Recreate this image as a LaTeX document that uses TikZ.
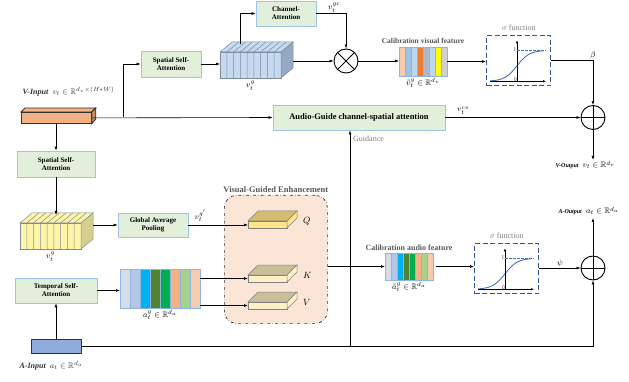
\documentclass[tikz,border=0pt]{standalone}
\usepackage{amsmath,amssymb}
\usepackage{fontspec}
\setmainfont{Liberation Serif}
\usepackage{tikz}
\usetikzlibrary{arrows.meta,positioning,calc}

\definecolor{boxfill}{HTML}{E2EFDA}
\definecolor{boxline}{HTML}{9DC3E6}
\definecolor{vgefill}{HTML}{FBE5D6}
\definecolor{sigline}{HTML}{2F5597}
\definecolor{sigcurv}{HTML}{4472C4}
\definecolor{barline}{HTML}{8DB4E2}
\definecolor{cubeedge}{HTML}{7F8C99}
\definecolor{bluefront}{HTML}{C5D9F1}
\definecolor{blueside}{HTML}{95A9C4}
\definecolor{ylwfront}{HTML}{FFF5A8}
\definecolor{ylwside}{HTML}{D6D08E}
\definecolor{qtop}{HTML}{D4BD6E}
\definecolor{qfront}{HTML}{FFE38A}
\definecolor{kvtop}{HTML}{CBBF9A}
\definecolor{kvfront}{HTML}{FDF0C8}
\definecolor{vinfill}{HTML}{F4B183}
\definecolor{ainfill}{HTML}{8FAADC}
\definecolor{txtgray}{HTML}{595959}
\definecolor{lightgray}{HTML}{7F7F7F}
% feature cells
\definecolor{cellgray}{HTML}{D6DCE4}
\definecolor{cellblue}{HTML}{B4C7E7}
\definecolor{cellcyan}{HTML}{00B0F0}
\definecolor{celldkgreen}{HTML}{548235}
\definecolor{cellgreen}{HTML}{00B050}
\definecolor{cellsalmon}{HTML}{F4B183}
\definecolor{cellltgreen}{HTML}{A9D18E}
\definecolor{cellpeach}{HTML}{F8CBAD}
\definecolor{cellsky}{HTML}{9DC3E6}
\definecolor{cellorange}{HTML}{ED7D31}
\definecolor{cellsteel}{HTML}{ADB9CA}
\definecolor{cellpale}{HTML}{BDD7EE}
\definecolor{cellyellow}{HTML}{FFFF00}
\definecolor{celllgray}{HTML}{D0CECE}

% sliced feature cube: name, x, y, front colour, side colour
\newcommand{\featcube}[5]{%
  \node[cubeface,fill=#4,minimum width=61pt,minimum height=26pt,anchor=north west] (#1) at (#2,#3) {};
  \filldraw[cubeface,fill=#4] (#1.north west) -- ++(12,-10) -- ($(#1.north east)+(12,-10)$) -- (#1.north east) -- cycle;
  \filldraw[cubeface,fill=#5] (#1.north east) -- ++(12,-10) -- ($(#1.south east)+(12,-10)$) -- (#1.south east) -- cycle;
  \foreach \k in {1,...,8}
    \draw[cubeface] ($(#1.south west)!\k/9!(#1.south east)$) -- ($(#1.north west)!\k/9!(#1.north east)$) -- ++(12,-10);}

% flat Q/K/V slab: name, x, y, top colour, front colour
\newcommand{\qkvslab}[5]{%
  \node[slabface,fill=#5,minimum width=39pt,minimum height=7pt,anchor=north west] (#1) at (#2,#3) {};
  \filldraw[slabface,fill=#4] (#1.north west) -- ++(10,-10) -- ($(#1.north east)+(10,-10)$) -- (#1.north east) -- cycle;
  \filldraw[slabface,fill=#5] (#1.north east) -- ++(10,-10) -- ($(#1.south east)+(10,-10)$) -- (#1.south east) -- cycle;}

% feature bar of 8 cells: name, x, y, width, height, colours
\newcommand{\featbar}[6]{%
  \node[inner sep=0pt,outer sep=0pt,minimum width=#4pt,minimum height=#5pt,anchor=north west] (#1) at (#2,#3) {};
  \foreach \c [count=\k from 0] in {#6}
    \filldraw[fill=\c,draw=barline,line width=0.7pt] ($(#1.north west)+({\k*#4/8},0)$) rectangle ++({#4/8},#5);}

% sigma function box: name, x, y
\newcommand{\sigbox}[3]{%
  \node[sigframe,minimum width=64pt,minimum height=50pt,anchor=north west] (#1) at (#2,#3) {};
  \begin{scope}[shift={(#1.south west)}]
    \draw[sigcurve] plot[domain=-27:27,samples=40] ({31+\x},{-5-31/(1+exp(-0.16*\x))});
    \draw[sigaxis] (4,-5) -- (60,-5);
    \draw[sigaxis] (31,-5) -- (31,-46);
    \draw[sigdash] (31,-36) -- (60,-36);
    \node[ticklab,anchor=east] at (31,-37) {1};
    \node[ticklab,anchor=south east] at (31.5,-4) {0};
  \end{scope}}

\begin{document}
\begin{tikzpicture}[
  x=1pt,y=-1pt,
  font=\fontsize{8}{9}\selectfont,
  box/.style={draw=boxline,fill=boxfill,line width=0.9pt,align=center,inner sep=1pt,
              font=\fontsize{7}{8}\selectfont\bfseries},
  arr/.style={-{Latex[length=4pt,width=3pt]},line width=0.6pt},
  ln/.style={line width=0.6pt},
  lab/.style={inner sep=1pt,font=\fontsize{8}{9}\selectfont},
  ttl/.style={inner sep=1pt,text=txtgray,font=\fontsize{7.5}{9}\selectfont\bfseries},
  gtxt/.style={inner sep=1pt,text=lightgray,font=\fontsize{8}{9}\selectfont},
  sigframe/.style={draw=sigline,line width=1.3pt,dash pattern=on 5pt off 2.5pt},
  sigaxis/.style={-{Latex[length=3pt,width=2.5pt]},line width=1pt},
  sigdash/.style={sigcurv,line width=0.7pt,dash pattern=on 2.5pt off 1.5pt},
  sigcurve/.style={sigcurv,line width=0.9pt},
  ticklab/.style={inner sep=0.5pt,text=txtgray,font=\fontsize{6}{7}\selectfont},
  cubeface/.style={draw=cubeedge,line width=0.5pt,inner sep=0pt,outer sep=0pt},
  slabface/.style={draw=gray,line width=0.5pt,inner sep=0pt,outer sep=0pt},
  vgebox/.style={draw=black!80,fill=vgefill,dash dot,line width=0.7pt,rounded corners=12pt,
                 inner sep=0pt},
  opcircle/.style={circle,draw,line width=0.9pt,minimum size=24pt,inner sep=0pt},
]
\useasboundingbox (0,0) rectangle (629,382);

% ----- visual branch (top)
\node[draw=black!80,fill=vinfill,line width=0.8pt,minimum width=70pt,minimum height=11pt,
      inner sep=0pt,anchor=north west] (vin) at (21,112) {};
\filldraw[draw=black!80,fill=vinfill,line width=0.8pt] (vin.north west) -- ++(4,-4) -- ($(vin.north east)+(4,-4)$) -- (vin.north east) -- cycle;
\filldraw[draw=black!80,fill=vinfill!80!black,line width=0.8pt] (vin.north east) -- ++(4,-4) -- ++(0,11) -- (vin.south east) -- cycle;
\node[anchor=west,text=black!80] (vinlab) at (19,92)
  {\textbf{\textit{V-Input}}\ \ $v_t\in\mathbb{R}^{d_v\times(H*W)}$};

\node[box,minimum width=60pt,minimum height=26pt] (ssa1) at (171,64) {Spatial Self-\\Attention};
\featcube{vg}{220}{52}{bluefront}{blueside}
\node[lab,below=2pt of vg] {$v_t^g$};
\node[box,minimum width=60pt,minimum height=25pt] (ca) at (286,13.5) {Channel-\\Attention};
\node[opcircle] (mul) at (346,61) {};
\draw[line width=0.9pt] (mul.north west) -- (mul.south east) (mul.north east) -- (mul.south west);

\featbar{cvf}{399}{47}{48}{29}{cellpeach,cellsky,cellpale,cellorange,cellsteel,cellpale,cellyellow,celllgray}
\node[ttl,above=2pt of cvf] {Calibration visual feature};
\node[lab,below=1pt of cvf] {$\tilde{v}_t^g\in\mathbb{R}^{d_v}$};
\sigbox{sg1}{486}{35}
\node[gtxt,above=3pt of sg1] {$\sigma$ function};

\node[box,minimum width=172pt,minimum height=25pt,font=\fontsize{8.5}{10}\selectfont\bfseries]
  (agca) at (359,117.5) {Audio-Guide channel-spatial attention};
\node[opcircle] (opv) at (593,117.5) {};
\draw[line width=0.9pt] (opv.north) -- (opv.south) (opv.west) -- (opv.east);

\coordinate (br1) at (123,117.5);
\coordinate (vgtop) at (240,44);
\coordinate (vgside) at (293,61);
\coordinate (vout) at (593,160);
\draw[arr] (vin.east) -- (agca.west);
\draw[arr] (br1) |- (ssa1.west);
\draw[arr] (ssa1) -- (ssa1 -| vg.west);
\draw[arr] (vgtop) |- (ca.west);
\draw[arr] (vgside) -- (mul.west);
\draw[arr] (ca.east) -| node[lab,pos=0.3,above]{$v_t^{gc}$} (mul.north);
\draw[arr] (mul) -- (mul -| cvf.west);
\draw[arr] (cvf) -- (cvf -| sg1.west);
\draw[arr] (sg1.east) -| node[lab,pos=0.5,above]{$\beta$} (opv.north);
\draw[arr] (agca.east) -- node[lab,pos=0.13,above=2pt]{$v_t^{cs}$} (opv.west);
\draw[arr] (opv.south) -- (vout);
\node[anchor=west] at (552,165)
  {\textbf{\textit{\fontsize{6}{7}\selectfont V-Output}}\ \ $v_t\in\mathbb{R}^{d_v}$};

% ----- visual branch (bottom)
\node[box,minimum width=78pt,minimum height=26pt] (ssa2) at (56,164) {Spatial Self-\\Attention};
\featcube{yg}{20}{223}{ylwfront}{ylwside}
\node[lab,below=2pt of yg] {$v_t^g$};
\node[box,minimum width=70pt,minimum height=24pt] (gap) at (153,225) {Global Average\\Pooling};
\coordinate (ygtop) at (56,215);
\coordinate (ygside) at (93,225);
\draw[arr] (vin.south -| ssa2) -- (ssa2.north);
\draw[arr] (ssa2.south) -- (ygtop);
\draw[arr] (ygside) -- (gap.west);

% ----- visual-guided enhancement
\node[vgebox,minimum width=103pt,minimum height=128pt,anchor=north west] (vge) at (224,195) {};
\node[ttl,font=\fontsize{8.5}{10}\selectfont\bfseries,above=1pt of vge] {Visual-Guided Enhancement};
\qkvslab{qs}{248}{221}{qtop}{qfront}
\qkvslab{ks}{248}{275}{kvtop}{kvfront}
\qkvslab{vs}{248}{302}{kvtop}{kvfront}
\node[lab,font=\fontsize{9}{10}\selectfont,right=15pt of qs,yshift=3pt] {$Q$};
\node[lab,font=\fontsize{9}{10}\selectfont,right=15pt of ks,yshift=3pt] {$K$};
\node[lab,font=\fontsize{9}{10}\selectfont,right=15pt of vs,yshift=3pt] {$V$};
\draw[arr] (gap) -- node[lab,pos=0.2,above=2pt]{$v_t^{g'}$} (gap -| qs.west);

% ----- audio branch
\node[draw=black!80,fill=ainfill,line width=0.9pt,minimum width=50pt,minimum height=14pt,
      inner sep=0pt] (ain) at (56,346) {};
\node[anchor=west,text=black!80] (ainlab) at (16,366)
  {\textbf{\textit{A-Input}}\ \ $a_t\in\mathbb{R}^{d_a}$};
\node[box,minimum width=82pt,minimum height=25pt] (tsa) at (56,290.5) {Temporal Self-\\Attention};
\featbar{ag}{120}{269}{80}{39}{cellgray,cellblue,cellcyan,celldkgreen,cellgreen,cellsalmon,cellltgreen,cellpeach}
\node[lab,below=1pt of ag] {$a_t^g\in\mathbb{R}^{d_a}$};
\draw[arr] (ain.north) -- (tsa.south);
\draw[arr] (tsa) -- (tsa -| ag.west);
\draw[arr] (ag.east |- ks) -- (ks.west);
\draw[arr] (ag.east |- vs) -- (vs.west);

\featbar{caf}{385}{253}{48}{27}{cellgray,cellblue,cellcyan,celldkgreen,cellgreen,cellsalmon,cellltgreen,cellpeach}
\node[ttl,font=\fontsize{8}{9}\selectfont\bfseries,above=1pt of caf] {Calibration audio feature};
\node[lab,below=1pt of caf] {$\tilde{a}_t^g\in\mathbb{R}^{d_a}$};
\sigbox{sg2}{474}{243}
\node[gtxt,above=3pt of sg2] {$\sigma$ function};
\node[opcircle] (opa) at (593,268) {};
\draw[line width=0.9pt] (opa.north) -- (opa.south) (opa.west) -- (opa.east);

\coordinate (gd) at (350,346);
\coordinate (aout) at (593,218);
\draw[arr] (vge.east |- caf) -- (caf.west);
\draw[arr,shorten <=3pt] (caf) -- (caf -| sg2.west);
\draw[arr] (sg2.east |- opa) -- node[lab,pos=0.5,above]{$\psi$} (opa.west);
\draw[arr] (opa.north) -- (aout);
\draw[arr] (ain.east) -| (opa.south);
\draw[arr] (gd) -- (gd |- agca.south);
\node[gtxt,anchor=west] at (352,139) {Guidance};
\node[anchor=west] at (555,211)
  {\textbf{\textit{\fontsize{6}{7}\selectfont A-Output}}\ \ $a_t\in\mathbb{R}^{d_a}$};
\end{tikzpicture}
\end{document}
